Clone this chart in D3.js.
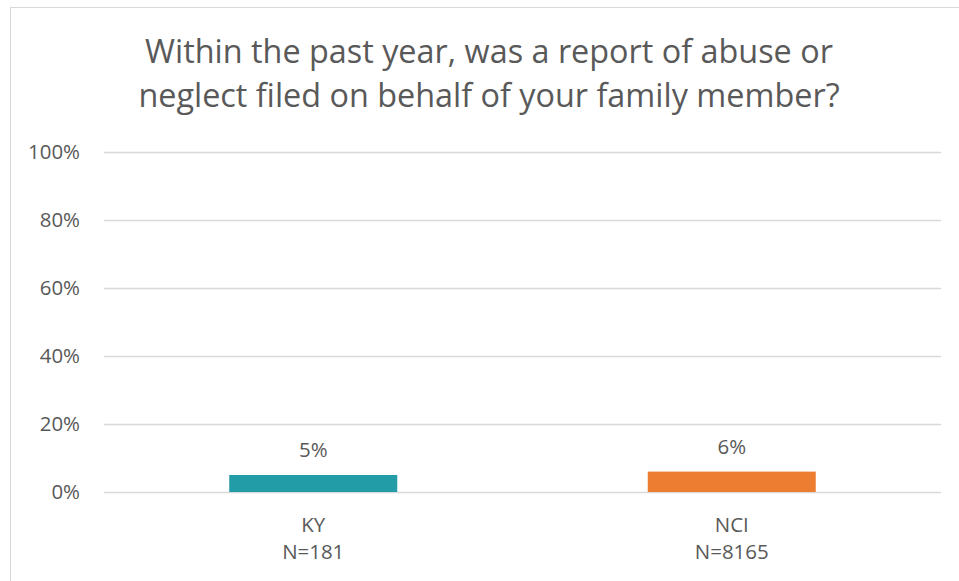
<!DOCTYPE html>
<html><head><meta charset="utf-8">
<script src="https://cdn.jsdelivr.net/npm/d3@7"></script>
<style>body{margin:0;background:#fff;} text{font-family:"Open Sans",sans-serif;fill:#595959;}</style>
</head><body>
<svg id="c" width="959" height="581"></svg>
<script>
const titleLines = ["Within the past year, was a report of abuse or", "neglect filed on behalf of your family member?"];
const categories = ["KY", "NCI"];
const categorySubLabels = ["N=181", "N=8165"];
const values = [0.05, 0.06];
const valueLabels = ["5%", "6%"];
const colors = ["#229ca6", "#ed7d31"];
const yTicks = [0, 0.2, 0.4, 0.6, 0.8, 1.0];

const svg = d3.select("#c");
svg.append("rect").attr("x", 10.5).attr("y", 7.5).attr("width", 960).attr("height", 580)
  .attr("fill", "#fff").attr("stroke", "#d9d9d9").attr("stroke-width", 1);

const m = {left: 104, right: 941, top: 152, bottom: 492};
const x = d3.scaleBand().domain(categories).range([m.left, m.right]).paddingInner(0.6).paddingOuter(0.3);
const y = d3.scaleLinear().domain([0, 1]).range([m.bottom, m.top]);

function fit(sel, target) {
  const w = sel.node().getComputedTextLength();
  const fs = parseFloat(sel.style("font-size"));
  sel.style("font-size", (fs * target / w) + "px");
}

const t = svg.append("g");
titleLines.forEach((l, i) => {
  const tt = t.append("text").attr("x", 489).attr("y", 63 + i * 44).attr("text-anchor", "middle")
    .style("font-size", "28px").text(l);
  if (i === 0) fit(tt, 688);
});
const tfs = t.select("text").style("font-size");
t.selectAll("text").style("font-size", tfs);

const yAxis = d3.axisLeft(y).tickValues(yTicks).tickFormat(d3.format(".0%")).tickSize(-(m.right - m.left)).tickPadding(24);
const ga = svg.append("g").attr("transform", `translate(${m.left},0)`).call(yAxis);
ga.select(".domain").remove();
ga.attr("font-family", null);
ga.selectAll(".tick line").attr("stroke", "#d9d9d9").attr("stroke-width", 1.3);
ga.selectAll(".tick text").style("font-size", "17px").attr("fill", "#595959");
const topTick = ga.selectAll(".tick text").filter((d) => d === 1);
fit(topTick, 52);
const lfs = topTick.style("font-size");
ga.selectAll(".tick text").style("font-size", lfs);

const bw = 168;
svg.selectAll("rect.bar").data(categories).join("rect").attr("class", "bar")
  .attr("x", (d) => x(d) + x.bandwidth() / 2 - bw / 2)
  .attr("width", bw)
  .attr("y", (d, i) => y(values[i]))
  .attr("height", (d, i) => y(0) - y(values[i]))
  .attr("fill", (d, i) => colors[i]);

svg.selectAll("text.val").data(categories).join("text").attr("class", "val")
  .attr("x", (d) => x(d) + x.bandwidth() / 2)
  .attr("y", (d, i) => y(values[i]) - 18)
  .attr("text-anchor", "middle").style("font-size", lfs)
  .text((d, i) => valueLabels[i]);

const cg = svg.selectAll("g.cat").data(categories).join("g").attr("class", "cat");
cg.append("text").attr("x", (d) => x(d) + x.bandwidth() / 2).attr("y", 532)
  .attr("text-anchor", "middle").style("font-size", lfs).text((d) => d);
cg.append("text").attr("x", (d) => x(d) + x.bandwidth() / 2).attr("y", 559)
  .attr("text-anchor", "middle").style("font-size", lfs).text((d, i) => categorySubLabels[i]);
</script>
</body></html>
